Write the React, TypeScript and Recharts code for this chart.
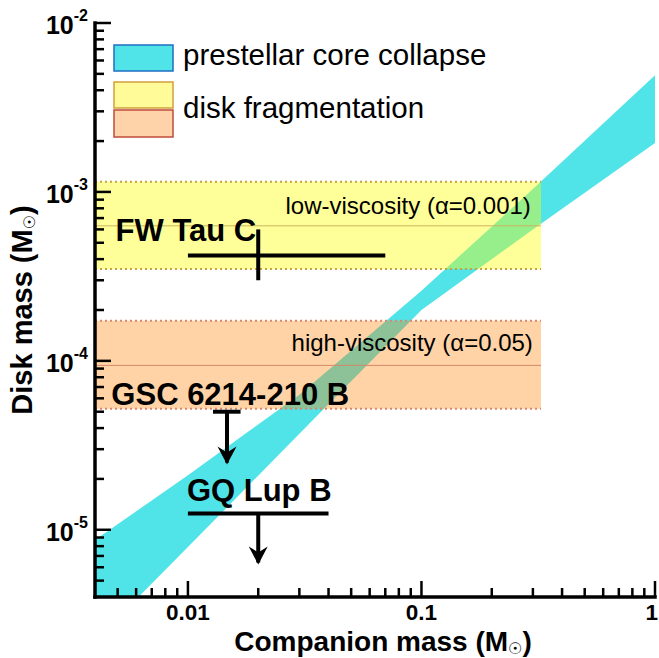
import { ComposedChart, Area, Line, Scatter, XAxis, YAxis, Customized } from 'recharts';

const FONT = '"Liberation Sans", Arial, Helvetica, sans-serif';

// prestellar core collapse band: lower and upper edge read at each companion mass
const coreMass = [0.004, 0.01, 0.03, 0.1, 0.3, 1];
const coreDiskLow = [2.2e-6, 7.9e-6, 3.7e-5, 2.0e-4, 6.0e-4, 1.95e-3];
const coreDiskHigh = [8.7e-6, 2.1e-5, 6.3e-5, 2.6e-4, 1.04e-3, 4.9e-3];

// disk fragmentation bands, [lower, median, upper]
const fragMass = [0.004, 0.325];
const lowVisc = [3.5e-4, 6.3e-4, 1.15e-3];
const highVisc = [5.2e-5, 9.4e-5, 1.73e-4];

// companions: mass [min, value, max], disk mass
const fwTauMass = [0.01, 0.02, 0.07];
const fwTauDisk = [3.0e-4, 4.2e-4, 6.0e-4];
const gscMass = [0.0128, 0.0147, 0.0168];
const gscDisk = [5.0e-5, 2.5e-5]; // upper limit, arrow tip
const gqLupMass = [0.01, 0.02, 0.04];
const gqLupDisk = [1.25e-5, 6.4e-6]; // upper limit, arrow tip

const nameLabels = ['FW Tau C', 'GSC 6214-210 B', 'GQ Lup B'];
const nameMass = [0.0049, 0.0047, 0.0099];
const nameDisk = [5.1e-4, 5.5e-5, 1.48e-5];

const modelLabels = ['low-viscosity (α=0.001)', 'high-viscosity (α=0.05)'];
const modelMass = [0.294, 0.3];
const modelDisk = [7.4e-4, 1.14e-4];

const legendLabels = ['prestellar core collapse', 'disk fragmentation'];

const xMajor = [0.01, 0.1, 1];
const xMajorLabels = ['0.01', '0.1', '1'];
const yMajor = [1e-5, 1e-4, 1e-3, 1e-2];
const yMajorExp = ['-5', '-4', '-3', '-2'];

const decade = (b: number) => [2, 3, 4, 5, 6, 7, 8, 9].map(k => k * b);
const xTicks = [...decade(0.001).slice(3), 0.01, ...decade(0.01), 0.1, ...decade(0.1), 1];
const yTicks = [...decade(1e-6).slice(3), 1e-5, ...decade(1e-5), 1e-4, ...decade(1e-4), 1e-3, ...decade(1e-3), 1e-2];

const coreBand = coreMass.map((m, i) => ({ m, band: [coreDiskLow[i], coreDiskHigh[i]] }));
const lowBand = fragMass.map(m => ({ m, band: [lowVisc[0], lowVisc[2]] }));
const highBand = fragMass.map(m => ({ m, band: [highVisc[0], highVisc[2]] }));
const lowMid = fragMass.map(m => ({ m, d: lowVisc[1] }));
const highMid = fragMass.map(m => ({ m, d: highVisc[1] }));

const fwH = [{ m: fwTauMass[0], d: fwTauDisk[1] }, { m: fwTauMass[2], d: fwTauDisk[1] }];
const fwV = [{ m: fwTauMass[1], d: fwTauDisk[0] }, { m: fwTauMass[1], d: fwTauDisk[2] }];
const gscH = [{ m: gscMass[0], d: gscDisk[0] }, { m: gscMass[2], d: gscDisk[0] }];
const gscV = [{ m: gscMass[1], d: gscDisk[0] }, { m: gscMass[1], d: gscDisk[1] }];
const gqH = [{ m: gqLupMass[0], d: gqLupDisk[0] }, { m: gqLupMass[2], d: gqLupDisk[0] }];
const gqV = [{ m: gqLupMass[1], d: gqLupDisk[0] }, { m: gqLupMass[1], d: gqLupDisk[1] }];
const arrowTips = [{ m: gscMass[1], d: gscDisk[1] }, { m: gqLupMass[1], d: gqLupDisk[1] }];

const names = nameLabels.map((label, i) => ({ m: nameMass[i], d: nameDisk[i], label }));
const models = modelLabels.map((label, i) => ({ m: modelMass[i], d: modelDisk[i], label }));

const near = (a: number, b: number) => Math.abs(a - b) < b * 1e-6;
const isMajor = (v: number) => Math.abs(Math.log10(v) - Math.round(Math.log10(v))) < 1e-6;

const MAJOR = 16;
const MINOR = 9;

function BottomTick({ x, y, payload }: any) {
  const v = payload.value;
  const i = xMajor.findIndex(t => near(v, t));
  // the last label sits on the right frame, keep it inside the picture
  const last = i === xMajor.length - 1;
  return (
    <g>
      <line x1={x} x2={x} y1={y} y2={y - (isMajor(v) ? MAJOR : MINOR)} stroke="#000" strokeWidth={2.5} />
      {i >= 0 && (
        <text x={last ? x + 3 : x} y={y + 23} textAnchor={last ? 'end' : 'middle'} fontFamily={FONT} fontSize={22.5} fontWeight="bold" fill="#000">
          {xMajorLabels[i]}
        </text>
      )}
    </g>
  );
}

function TopTick({ x, y, payload }: any) {
  const v = payload.value;
  return <line x1={x} x2={x} y1={y} y2={y + (isMajor(v) ? MAJOR : MINOR)} stroke="#000" strokeWidth={2.5} />;
}

function LeftTick({ x, y, payload }: any) {
  const v = payload.value;
  const i = yMajor.findIndex(t => near(v, t));
  return (
    <g>
      <line x1={x} x2={x + (isMajor(v) ? MAJOR : MINOR)} y1={y} y2={y} stroke="#000" strokeWidth={2.5} />
      {i >= 0 && (
        <text x={88} y={y + 11} textAnchor="end" fontFamily={FONT} fontWeight="bold" fill="#000">
          <tspan fontSize={25}>10</tspan>
          <tspan fontSize={16} dy={-13}>{yMajorExp[i]}</tspan>
        </text>
      )}
    </g>
  );
}

function RightTick({ x, y, payload }: any) {
  const v = payload.value;
  return <line x1={x} x2={x - (isMajor(v) ? MAJOR : MINOR)} y1={y} y2={y} stroke="#000" strokeWidth={2.5} />;
}

function XTitle({ viewBox }: any) {
  const cx = viewBox.x + viewBox.width / 2 + 8;
  return (
    <text x={cx} y={viewBox.y + 54} textAnchor="middle" fontFamily={FONT} fontSize={28} fontWeight="bold" fill="#000">
      Companion mass (M
      <tspan fontFamily="DejaVu Sans" fontWeight="normal" fontSize={16} dy={3}>☉</tspan>
      <tspan dy={-3}>)</tspan>
    </text>
  );
}

function YTitle({ viewBox }: any) {
  const x = viewBox.x + 32;
  const y = viewBox.y + viewBox.height / 2;
  return (
    <text x={x} y={y} transform={`rotate(-90, ${x}, ${y})`} textAnchor="middle" fontFamily={FONT} fontSize={29} fontWeight="bold" fill="#000">
      Disk mass (M
      <tspan fontFamily="DejaVu Sans" fontWeight="normal" fontSize={16} dy={3}>☉</tspan>
      <tspan dy={-3}>)</tspan>
    </text>
  );
}

const NameText = (p: any) => (
  <text x={p.cx} y={p.cy} fontFamily={FONT} fontSize={31} fontWeight="bold" fill="#000">
    {p.payload?.label ?? p.label}
  </text>
);

const ModelText = (p: any) => (
  <text x={p.cx} y={p.cy} textAnchor="end" fontFamily={FONT} fontSize={24} fill="#000">
    {p.payload?.label ?? p.label}
  </text>
);

const ArrowHead = (p: any) => {
  const x = p.cx;
  const y = p.cy + 2;
  return <path d={`M${x},${y} L${x - 9.5},${y - 18} L${x},${y - 12} L${x + 9.5},${y - 18} Z`} fill="#000" />;
};

function LegendBox() {
  return (
    <g>
      <rect x={114} y={45} width={59} height={26} fill="#50E4E8" stroke="#1F6FC4" strokeWidth={1.5} />
      <rect x={114} y={82} width={59} height={26} fill="#FFFB99" stroke="#D1A03C" strokeWidth={1.5} />
      <rect x={114} y={110} width={59} height={27} fill="#FFD3A9" stroke="#BF4B3B" strokeWidth={1.5} />
      <text x={183} y={65} fontFamily={FONT} fontSize={29.5} fill="#000">{legendLabels[0]}</text>
      <text x={183} y={118} fontFamily={FONT} fontSize={29.5} fill="#000">{legendLabels[1]}</text>
    </g>
  );
}

const axisLine = { stroke: '#000', strokeWidth: 3.5, strokeLinecap: 'square' as const };
const ids = { xAxisId: 'b', yAxisId: 'l' };

export default function App() {
  return (
    <div style={{ position: 'absolute', left: 0, top: 0 }}>
      <ComposedChart width={659} height={658} margin={{ top: 23, right: 4, bottom: 0, left: 0 }}>
        <XAxis
          xAxisId="b"
          dataKey="m"
          type="number"
          scale="log"
          domain={[0.004, 1]}
          allowDataOverflow
          ticks={xTicks}
          interval={0}
          tick={<BottomTick />}
          tickLine={false}
          tickSize={0}
          tickMargin={0}
          height={61}
          axisLine={axisLine}
          label={<XTitle />}
        />
        <XAxis
          xAxisId="t"
          orientation="top"
          type="number"
          scale="log"
          domain={[0.004, 1]}
          allowDataOverflow
          ticks={xTicks}
          interval={0}
          tick={<TopTick />}
          tickLine={false}
          tickSize={0}
          tickMargin={0}
          height={0}
          axisLine={axisLine}
        />
        <YAxis
          yAxisId="l"
          type="number"
          scale="log"
          domain={[4e-6, 1e-2]}
          allowDataOverflow
          ticks={yTicks}
          interval={0}
          tick={<LeftTick />}
          tickLine={false}
          tickSize={0}
          tickMargin={0}
          width={95}
          axisLine={axisLine}
          label={<YTitle />}
        />
        <YAxis
          yAxisId="r"
          orientation="right"
          type="number"
          scale="log"
          domain={[4e-6, 1e-2]}
          allowDataOverflow
          ticks={yTicks}
          interval={0}
          tick={<RightTick />}
          tickLine={false}
          tickSize={0}
          tickMargin={0}
          width={0}
          axisLine={axisLine}
        />

        <Area {...ids} data={coreBand} dataKey="band" type="linear" fill="#50E4E8" fillOpacity={1} stroke="none" isAnimationActive={false} />
        <Area {...ids} data={lowBand} dataKey="band" type="linear" fill="#FFFF00" fillOpacity={0.4} stroke="#C9A23A" strokeWidth={2} strokeDasharray="2 3" isAnimationActive={false} />
        <Area {...ids} data={highBand} dataKey="band" type="linear" fill="#FF8000" fillOpacity={0.35} stroke="#D9876B" strokeWidth={2} strokeDasharray="2 3" isAnimationActive={false} />
        <Line {...ids} data={lowMid} dataKey="d" type="linear" stroke="#CDB35C" strokeWidth={1} dot={false} isAnimationActive={false} />
        <Line {...ids} data={highMid} dataKey="d" type="linear" stroke="#D4896A" strokeWidth={1} dot={false} isAnimationActive={false} />

        <Line {...ids} data={fwH} dataKey="d" stroke="#000" strokeWidth={4} dot={false} isAnimationActive={false} />
        <Line {...ids} data={fwV} dataKey="d" stroke="#000" strokeWidth={4} dot={false} isAnimationActive={false} />
        <Line {...ids} data={gscH} dataKey="d" stroke="#000" strokeWidth={4} dot={false} isAnimationActive={false} />
        <Line {...ids} data={gscV} dataKey="d" stroke="#000" strokeWidth={4} dot={false} isAnimationActive={false} />
        <Line {...ids} data={gqH} dataKey="d" stroke="#000" strokeWidth={4} dot={false} isAnimationActive={false} />
        <Line {...ids} data={gqV} dataKey="d" stroke="#000" strokeWidth={4} dot={false} isAnimationActive={false} />
        <Scatter {...ids} data={arrowTips} dataKey="d" shape={ArrowHead} isAnimationActive={false} />

        <Scatter {...ids} data={names} dataKey="d" shape={NameText} isAnimationActive={false} />
        <Scatter {...ids} data={models} dataKey="d" shape={ModelText} isAnimationActive={false} />

        <Customized component={<LegendBox />} />
      </ComposedChart>
    </div>
  );
}
